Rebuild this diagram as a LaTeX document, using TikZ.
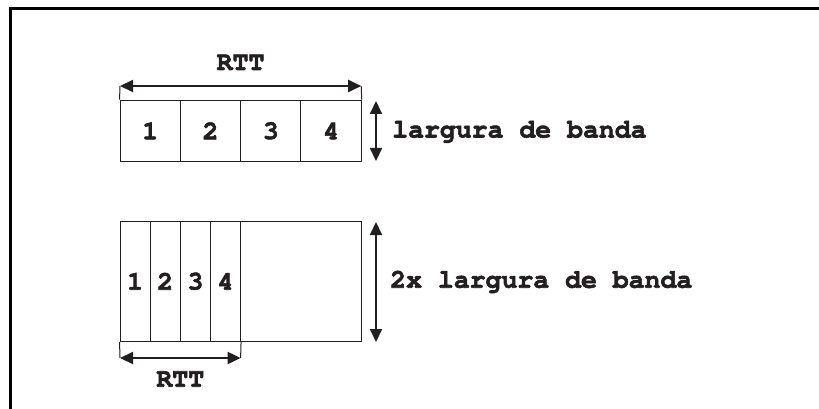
\documentclass[tikz,border=0pt]{standalone}
\usepackage[T1]{fontenc}
\usetikzlibrary{arrows.meta}
\definecolor{ink}{HTML}{231F20}
% heavy Courier: fill and stroke the glyphs
\newcommand{\couriertxt}{\usefont{T1}{pcr}{b}{n}\fontsize{26.5}{30}\selectfont}
\newcommand{\heavytxt}[1]{\special{pdf:literal direct 2 Tr 0.6 w}#1\special{pdf:literal direct 0 Tr}}
\tikzset{
  lbl/.style={font=\couriertxt, text=ink, inner sep=0pt},
  cell/.style={draw=ink, line width=1pt, inner sep=0pt, lbl},
  dim/.style={draw=ink, line width=2pt, {Triangle[length=13pt,width=12pt]}-{Triangle[length=13pt,width=12pt]}},
  ext/.style={draw=ink, line width=1pt},
  frameline/.style={draw=black, line width=3pt}
}
\begin{document}
\begin{tikzpicture}[x=1pt,y=-1pt]
\useasboundingbox (0,0) rectangle (819,409);
% frame
\draw[frameline] (10,409) -- (10,8.5) -- (819,8.5);

% ---- upper row: four segments spread over one RTT
\foreach \i/\x in {1/150.2,2/210.5,3/270.8,4/331.1}
  \node[cell, minimum width=60.3pt, minimum height=61.7pt] (t\i) at (\x,130.9) {\heavytxt{\i}};
\coordinate (tl) at (120,86);
\coordinate (tr) at (361.2,86);
\draw[ext] (t1.north west) -- (tl);
\draw[ext] (t4.north east) -- (tr);
\draw[dim] (tl) -- (tr);
\node[lbl, anchor=base] (rtt1) at (240.6,70) {\heavytxt{RTT}};
\coordinate (ta) at (376,101);
\coordinate (tb) at (376,161);
\draw[dim] (ta) -- (tb);
\node[lbl, anchor=base west] (bw1) at (392,137.5) {\heavytxt{largura de banda}};

% ---- lower row: same four segments, twice the bandwidth
\node[draw=ink, line width=1pt, minimum width=241.2pt, minimum height=120.7pt, inner sep=0pt] (big) at (240.6,281.35) {};
\foreach \i/\x in {1/135.1,2/165.2,3/195.4,4/225.5}
  \node[cell, minimum width=30.1pt, minimum height=120.7pt] (b\i) at (\x,281.35) {\heavytxt{\i}};
\coordinate (bl) at (120,358);
\coordinate (br) at (240.6,358);
\draw[ext] (b1.south west) -- (bl);
\draw[ext] (b4.south east) -- (br);
\draw[dim] (bl) -- (br);
\node[lbl, anchor=base] (rtt2) at (180.3,386.7) {\heavytxt{RTT}};
\coordinate (ba) at (376,222);
\coordinate (bb) at (376,342);
\draw[dim] (ba) -- (bb);
\node[lbl, anchor=base west] (bw2) at (390,287.7) {\heavytxt{2x largura de banda}};
\end{tikzpicture}
\end{document}
